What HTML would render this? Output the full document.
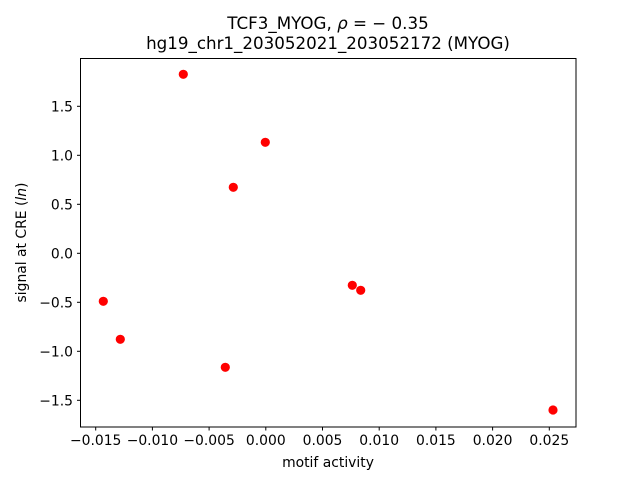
<!DOCTYPE html>
<html><head><meta charset="utf-8"><style>body{margin:0;background:#fff}svg{display:block}text{font-family:"DejaVu Sans","Liberation Sans",sans-serif;fill:#000}</style></head><body>
<svg width="640" height="480" viewBox="0 0 640 480" xmlns="http://www.w3.org/2000/svg">
<rect width="640" height="480" fill="#fff"/>
<g fill="#f00">
<circle cx="183.3" cy="74.3" r="4.6"/><circle cx="265.3" cy="142.3" r="4.6"/><circle cx="233.3" cy="187.3" r="4.6"/>
<circle cx="352.3" cy="285.3" r="4.6"/><circle cx="360.7" cy="290.3" r="4.6"/><circle cx="103.3" cy="301.3" r="4.6"/>
<circle cx="120.3" cy="339.3" r="4.6"/><circle cx="225.3" cy="367.3" r="4.6"/><circle cx="553" cy="410" r="4.6"/>
</g>
<rect x="80.5" y="58.5" width="495.5" height="368.5" fill="none" stroke="#000" stroke-width="1"/>
<g stroke="#000" stroke-width="1">
<line x1="95.7" y1="427" x2="95.7" y2="430.5"/><line x1="152.4" y1="427" x2="152.4" y2="430.5"/><line x1="209.1" y1="427" x2="209.1" y2="430.5"/><line x1="265.8" y1="427" x2="265.8" y2="430.5"/><line x1="322.5" y1="427" x2="322.5" y2="430.5"/><line x1="379.2" y1="427" x2="379.2" y2="430.5"/><line x1="435.9" y1="427" x2="435.9" y2="430.5"/><line x1="492.6" y1="427" x2="492.6" y2="430.5"/><line x1="549.3" y1="427" x2="549.3" y2="430.5"/>
<line x1="77" y1="106.3" x2="80.5" y2="106.3"/><line x1="77" y1="155.3" x2="80.5" y2="155.3"/><line x1="77" y1="204.3" x2="80.5" y2="204.3"/><line x1="77" y1="253.3" x2="80.5" y2="253.3"/><line x1="77" y1="302.3" x2="80.5" y2="302.3"/><line x1="77" y1="351.3" x2="80.5" y2="351.3"/><line x1="77" y1="400.3" x2="80.5" y2="400.3"/>
</g>
<g font-size="13.9" text-anchor="middle">
<text x="95.7" y="445">−0.015</text><text x="152.4" y="445">−0.010</text><text x="209.1" y="445">−0.005</text><text x="265.8" y="445">0.000</text><text x="322.5" y="445">0.005</text><text x="379.2" y="445">0.010</text><text x="435.9" y="445">0.015</text><text x="492.6" y="445">0.020</text><text x="549.3" y="445">0.025</text>
</g>
<g font-size="13.9" text-anchor="end">
<text x="73" y="111.3">1.5</text><text x="73" y="160.3">1.0</text><text x="73" y="209.3">0.5</text><text x="73" y="258.3">0.0</text><text x="73" y="307.3">−0.5</text><text x="73" y="356.3">−1.0</text><text x="73" y="405.3">−1.5</text>
</g>
<text x="328" y="467" font-size="13.9" text-anchor="middle">motif activity</text>
<text transform="translate(26,242.5) rotate(-90)" font-size="13.9" text-anchor="middle">signal at CRE (<tspan font-style="italic">ln</tspan>)</text>
<text x="328" y="29" font-size="16.7" text-anchor="middle">TCF3_MYOG, <tspan font-style="italic">ρ</tspan> = − 0.35</text>
<text x="328" y="49" font-size="16.7" text-anchor="middle">hg19_chr1_203052021_203052172 (MYOG)</text>
</svg>
</body></html>
